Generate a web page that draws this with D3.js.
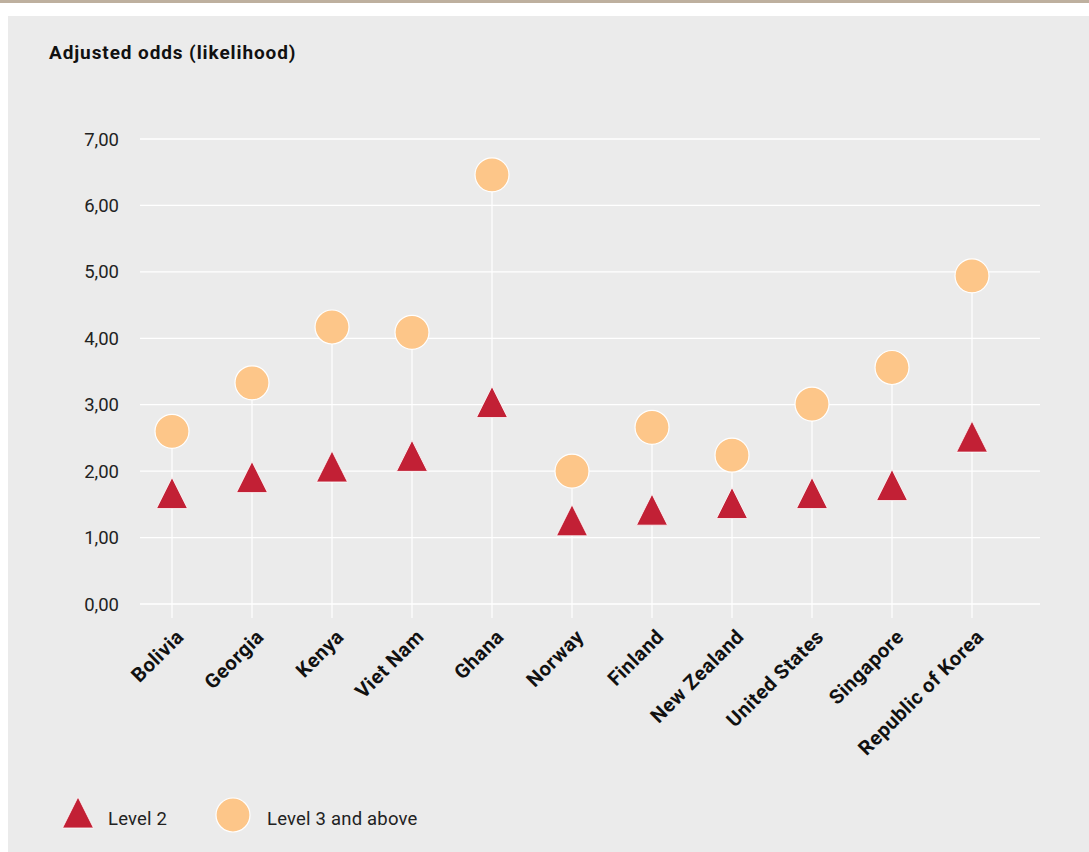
<!DOCTYPE html>
<html><head><meta charset="utf-8">
<script src="https://cdn.jsdelivr.net/npm/d3@7"></script>
<style>
html,body{margin:0;padding:0;background:#fff;}
svg{display:block;}
text{font-family:Roboto,"Liberation Sans",sans-serif;}
</style></head>
<body>
<script>
const countries = ["Bolivia","Georgia","Kenya","Viet Nam","Ghana","Norway","Finland","New Zealand","United States","Singapore","Republic of Korea"];
const level2 = [1.67,1.91,2.07,2.23,3.04,1.26,1.42,1.52,1.67,1.79,2.52];
const level3 = [2.60,3.33,4.17,4.09,6.46,2.00,2.66,2.24,3.01,3.56,4.94];
const yTicks = [0,1,2,3,4,5,6,7];
const seriesNames = ["Level 2","Level 3 and above"];

const W=1089,H=852;
const svg=d3.select("body").append("svg").attr("width",W).attr("height",H);
svg.append("rect").attr("x",0).attr("y",0).attr("width",W).attr("height",3).attr("fill","#BEB09F");
svg.append("rect").attr("x",8).attr("y",16).attr("width",W-8).attr("height",H-16).attr("fill","#EBEBEB");

svg.append("text").attr("x",49).attr("y",59).attr("font-size",19).attr("font-weight","bold")
  .attr("letter-spacing",0.9).attr("fill","#111").text("Adjusted odds (likelihood)");

const y=d3.scaleLinear().domain([0,7]).range([604,139]);
const x=d3.scalePoint().domain(countries).range([172,972]);
const fmt=d => d3.format(".2f")(d).replace(".",",");

// gridlines + y labels
const yAxis=svg.append("g");
yAxis.selectAll("line").data(yTicks).join("line")
  .attr("x1",140).attr("x2",1040).attr("y1",d=>y(d)).attr("y2",d=>y(d))
  .attr("stroke","#fff").attr("stroke-width",1.3);
yAxis.selectAll("text").data(yTicks).join("text")
  .attr("x",119).attr("y",d=>y(d)+6.5).attr("text-anchor","end")
  .attr("font-size",18.5).attr("fill","#222").text(fmt);

// stems
svg.append("g").selectAll("line").data(countries).join("line")
  .attr("x1",d=>x(d)).attr("x2",d=>x(d))
  .attr("y1",(d,i)=>y(Math.max(level2[i],level3[i])))
  .attr("y2",618).attr("stroke","#fff").attr("stroke-width",1.2);

// x labels
svg.append("g").selectAll("text").data(countries).join("text")
  .attr("transform",d=>`translate(${x(d)+13},${638}) rotate(-45)`)
  .attr("text-anchor","end").attr("font-size",20).attr("font-weight","bold")
  .attr("letter-spacing",0.5).attr("fill","#111").text(d=>d);

function triPath(cx,cy,w,h){return `M${cx},${cy-h/2}L${cx+w/2},${cy+h/2}L${cx-w/2},${cy+h/2}Z`;}

svg.append("g").selectAll("circle").data(countries).join("circle")
  .attr("cx",d=>x(d)).attr("cy",(d,i)=>y(level3[i])).attr("r",17)
  .attr("fill","#FDC689").attr("stroke","#fff").attr("stroke-width",1.2);

svg.append("g").selectAll("path").data(countries).join("path")
  .attr("d",(d,i)=>triPath(x(d),y(level2[i]),31,31))
  .attr("fill","#C22035").attr("stroke","#fff").attr("stroke-width",0.8);

// legend
const lg=svg.append("g");
lg.append("path").attr("d",triPath(78,812.5,31,31)).attr("fill","#C22035").attr("stroke","#fff").attr("stroke-width",0.8);
lg.append("text").attr("x",108).attr("y",825).attr("font-size",18.5).attr("letter-spacing",0.2).attr("fill","#222").text(seriesNames[0]);
lg.append("circle").attr("cx",233).attr("cy",815).attr("r",17).attr("fill","#FDC689").attr("stroke","#fff").attr("stroke-width",1.2);
lg.append("text").attr("x",267).attr("y",825).attr("font-size",18.5).attr("letter-spacing",0.2).attr("fill","#222").text(seriesNames[1]);
</script>
</body></html>
